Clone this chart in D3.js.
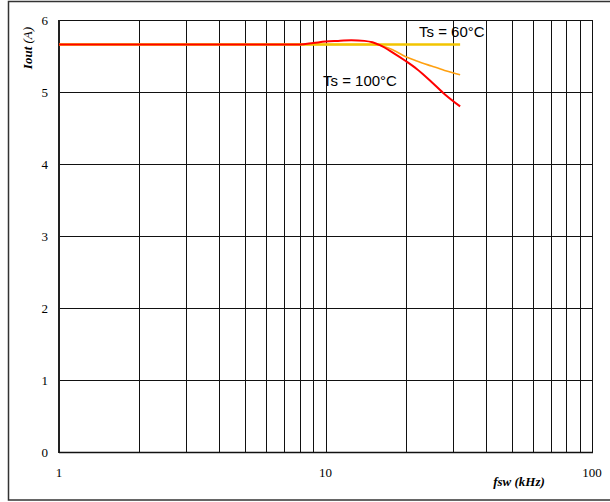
<!DOCTYPE html>
<html>
<head>
<meta charset="utf-8">
<script src="https://cdn.jsdelivr.net/npm/d3@7"></script>
<style>
  body { margin: 0; background: #fff; }
  .tick-lbl { font-family: "Liberation Serif", "Times New Roman", serif; font-size: 13px; fill: #000; }
  .note { font-family: "Liberation Sans", Arial, sans-serif; font-size: 15px; fill: #000; }
  .axis-title { font-family: "Liberation Serif", "Times New Roman", serif; font-size: 13px; font-style: italic; fill: #000; }
</style>
</head>
<body>
<script>
// data
const freq100 = [1, 8, 9, 10, 11, 12.5, 14, 15, 16, 18, 20, 22, 25, 28, 32];
const iout100 = [5.66, 5.66, 5.68, 5.70, 5.71, 5.72, 5.71, 5.69, 5.65, 5.54, 5.43, 5.32, 5.14, 4.97, 4.80];

const freqMid = [1, 15, 16, 18, 20, 22, 25, 28, 32];
const ioutMid = [5.66, 5.66, 5.65, 5.58, 5.49, 5.43, 5.36, 5.30, 5.24];

const freq60 = [1, 32];
const iout60 = [5.66, 5.66];

const yTicks = [0, 1, 2, 3, 4, 5, 6];
const xLabels = [1, 10, 100];
const xGrid = [2, 3, 4, 5, 6, 7, 8, 9, 10, 20, 30, 40, 50, 60, 70, 80, 90];

const w = 610;
const h = 502;
const pLeft = 59, pRight = 592, pTop = 20, pBottom = 452;

const xScale = d3.scaleLog().domain([1, 100]).range([pLeft, pRight]);
const yScale = d3.scaleLinear().domain([0, 6]).range([pBottom, pTop]);

const svg = d3.select("body")
    .append("svg")
    .attr("width", w)
    .attr("height", h);

// outer frame (right side runs off the picture)
svg.append("rect")
    .attr("x", 8.5).attr("y", 1.5)
    .attr("width", 620).attr("height", 498.5)
    .attr("fill", "none")
    .attr("stroke", "#333")
    .attr("stroke-width", 1.5);

// grid
svg.selectAll(".hgrid")
    .data(yTicks.filter(d => d > 0 && d < 6))
    .enter()
    .append("line")
    .attr("x1", pLeft).attr("x2", pRight)
    .attr("y1", d => Math.round(yScale(d)) + 0.5)
    .attr("y2", d => Math.round(yScale(d)) + 0.5)
    .attr("stroke", "#111")
    .attr("stroke-width", 1);

svg.selectAll(".vgrid")
    .data(xGrid)
    .enter()
    .append("line")
    .attr("x1", d => Math.round(xScale(d)) + 0.5)
    .attr("x2", d => Math.round(xScale(d)) + 0.5)
    .attr("y1", pTop).attr("y2", pBottom)
    .attr("stroke", "#111")
    .attr("stroke-width", 1);

// plot box
svg.append("rect")
    .attr("x", pLeft + 0.5).attr("y", pTop + 0.5)
    .attr("width", pRight - pLeft).attr("height", pBottom - pTop)
    .attr("fill", "none")
    .attr("stroke", "#111")
    .attr("stroke-width", 1);
svg.append("line")
    .attr("x1", pLeft).attr("x2", pLeft).attr("y1", pTop).attr("y2", pBottom + 1)
    .attr("stroke", "#222").attr("stroke-width", 2);
svg.append("line")
    .attr("x1", pLeft).attr("x2", pRight + 1).attr("y1", pBottom + 0.5).attr("y2", pBottom + 0.5)
    .attr("stroke", "#111").attr("stroke-width", 1.5);

// curves
const lineGen = d3.line()
    .x(d => xScale(d[0]))
    .y(d => yScale(d[1]))
    .curve(d3.curveMonotoneX);

const curves = [
    { f: freqMid, v: ioutMid, color: "#FFA010", width: 1.6 },
    { f: freq60, v: iout60, color: "#F2C500", width: 2.6 },
    { f: freq100, v: iout100, color: "#FF0000", width: 2 }
];

curves.forEach(c => {
    svg.append("path")
        .datum(d3.zip(c.f, c.v))
        .attr("d", lineGen)
        .attr("fill", "none")
        .attr("stroke", c.color)
        .attr("stroke-width", c.width);
});

// tick labels
svg.selectAll(".ylbl")
    .data(yTicks)
    .enter()
    .append("text")
    .attr("class", "tick-lbl")
    .attr("x", 48)
    .attr("y", d => yScale(d))
    .attr("dy", "0.35em")
    .attr("text-anchor", "end")
    .text(d => d);

svg.selectAll(".xlbl")
    .data(xLabels)
    .enter()
    .append("text")
    .attr("class", "tick-lbl")
    .attr("x", d => xScale(d))
    .attr("y", 477)
    .attr("text-anchor", "middle")
    .text(d => d);

// annotations
svg.append("text").attr("class", "note")
    .attr("x", 419).attr("y", 37)
    .text("Ts = 60°C");
svg.append("text").attr("class", "note")
    .attr("x", 323).attr("y", 86)
    .text("Ts = 100°C");

// axis titles
const yt = svg.append("text")
    .attr("class", "axis-title")
    .attr("transform", "translate(32,48) rotate(-90)")
    .attr("text-anchor", "middle");
yt.append("tspan").attr("font-weight", "bold").text("Iout");
yt.append("tspan").text(" (A)");

svg.append("text")
    .attr("class", "axis-title")
    .attr("x", 519).attr("y", 486)
    .attr("text-anchor", "middle")
    .attr("font-weight", "bold")
    .text("fsw (kHz)");
</script>
</body>
</html>
